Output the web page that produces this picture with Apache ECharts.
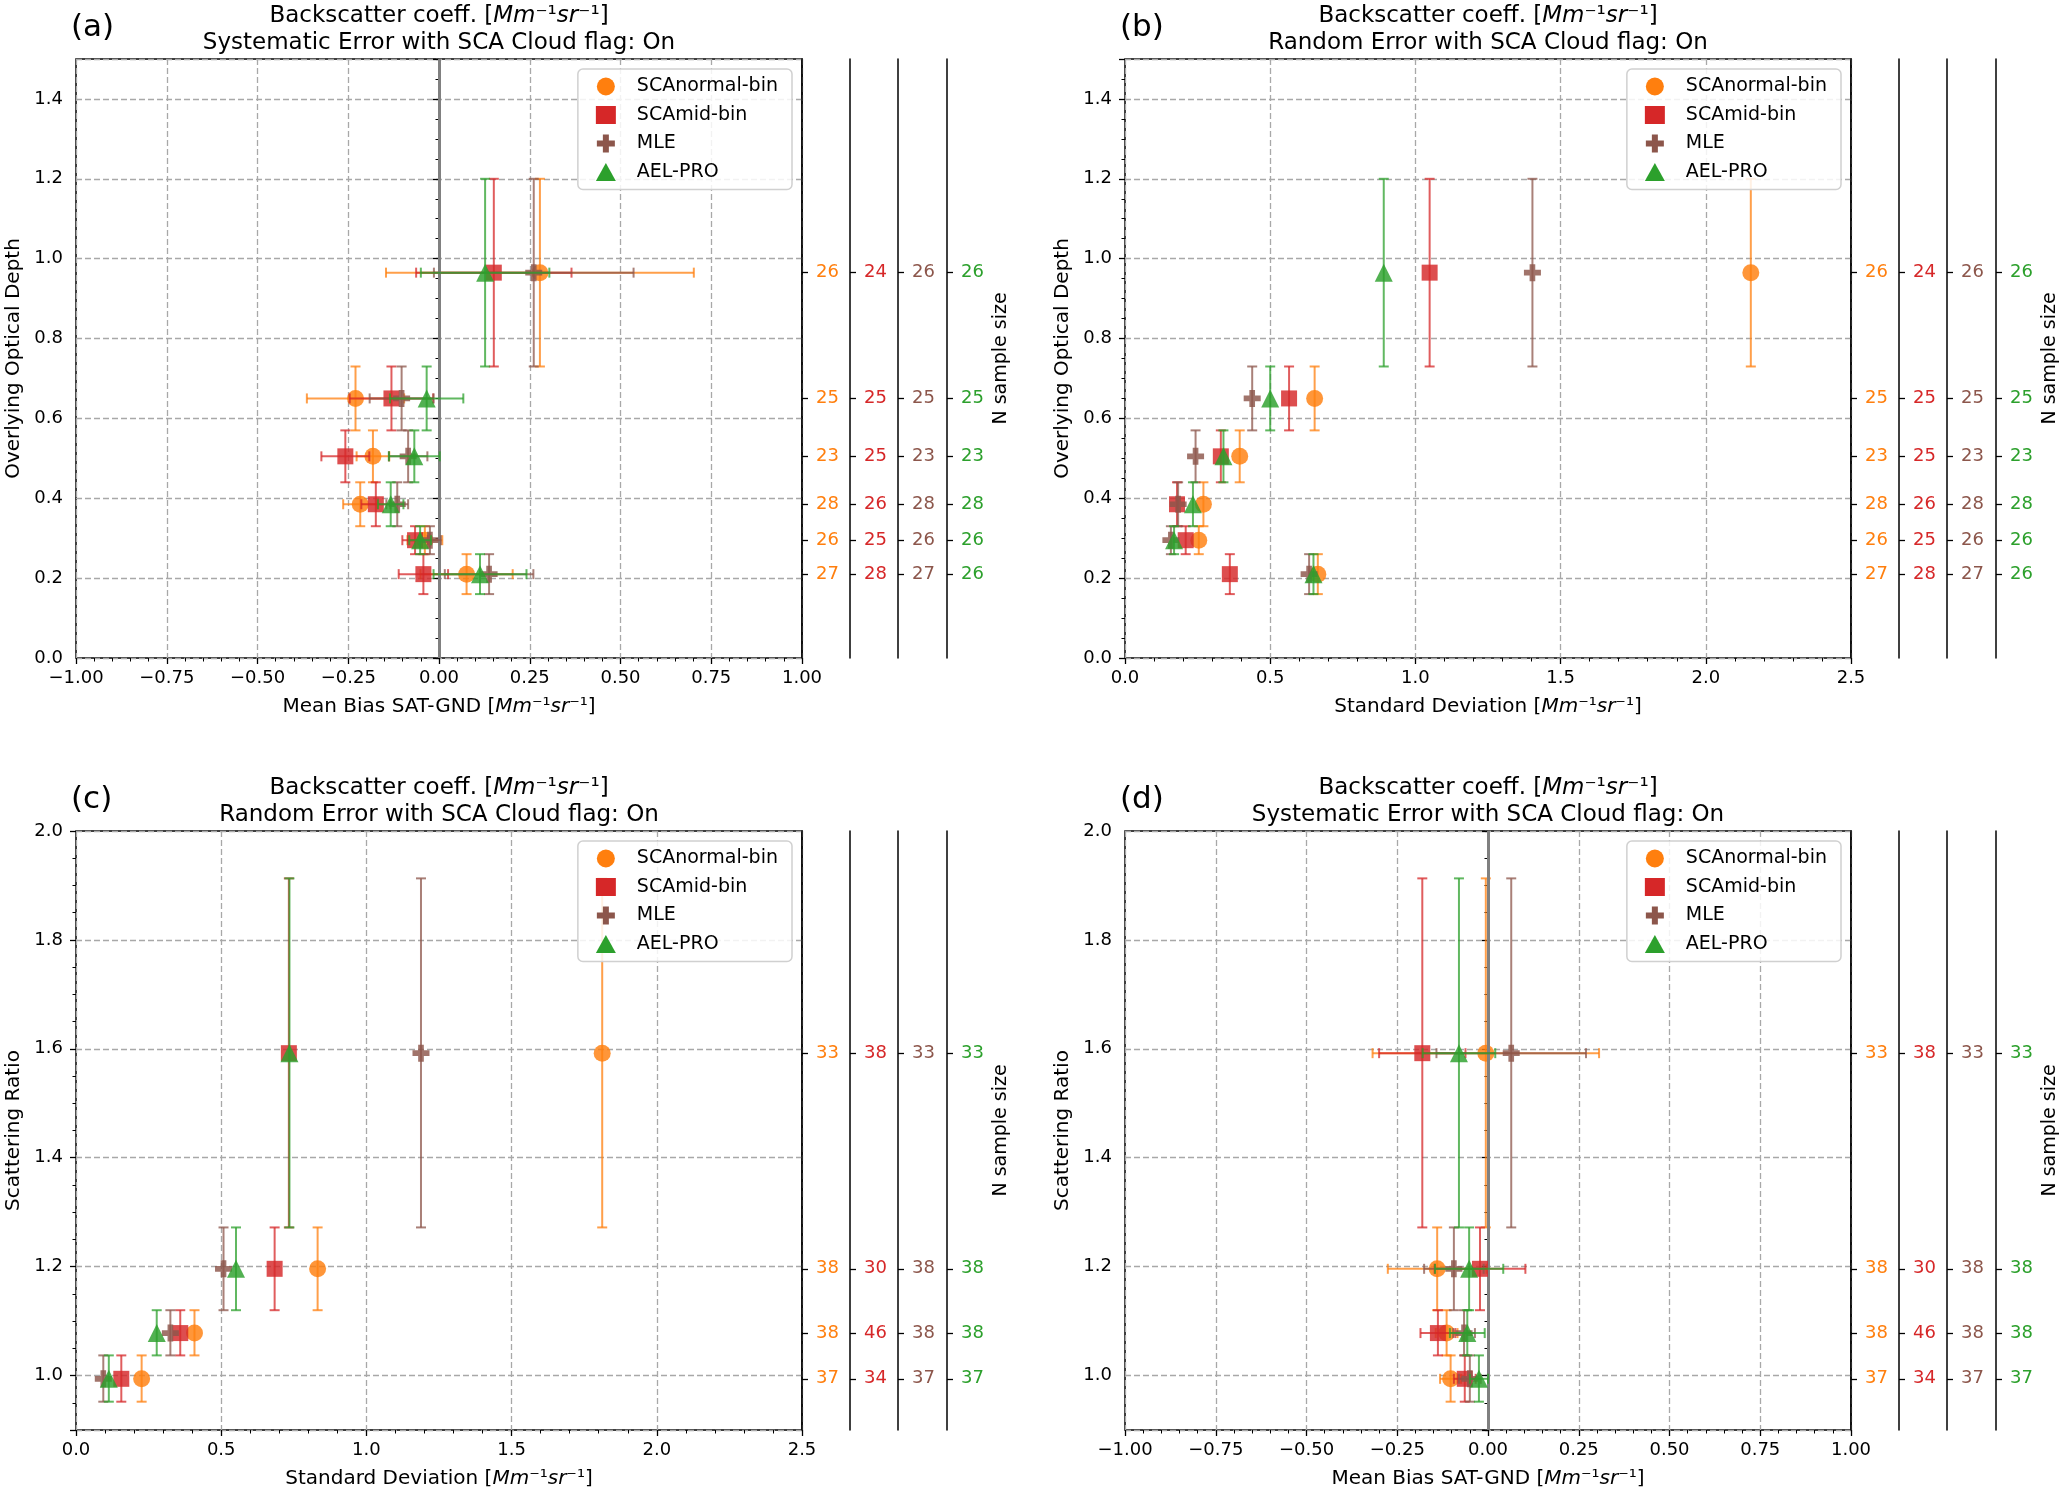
<!DOCTYPE html>
<html>
<head>
<meta charset="utf-8">
<script src="https://cdn.jsdelivr.net/npm/echarts@6/dist/echarts.min.js"></script>
<style>
  html, body { margin: 0; padding: 0; background: #fff; }
  #chart { width: 2067px; height: 1491px; }
</style>
</head>
<body>
<div id="chart"></div>
<script>
// bins of overlying optical depth (panels a, b), bottom to top
const odCenter = [0.21, 0.295, 0.385, 0.505, 0.65, 0.965];
const odLow = [0.16, 0.26, 0.33, 0.44, 0.57, 0.73];
const odHigh = [0.26, 0.33, 0.44, 0.57, 0.73, 1.2];
// bins of scattering ratio (panels c, d)
const srCenter = [0.994, 1.078, 1.196, 1.592];
const srLow = [0.952, 1.037, 1.12, 1.272];
const srHigh = [1.037, 1.12, 1.272, 1.913];

const methods = ['SCAnormal-bin', 'SCAmid-bin', 'MLE', 'AEL-PRO'];
const colors = ['#ff7f0e', '#d62728', '#8c564b', '#2ca02c'];

// (a) mean bias vs optical depth, with std error
const aNormal = [0.076, -0.039, -0.217, -0.182, -0.230, 0.278];
const aNormalErr = [0.127, 0.048, 0.047, 0.045, 0.134, 0.424];
const aMid = [-0.043, -0.066, -0.174, -0.258, -0.131, 0.151];
const aMidErr = [0.068, 0.035, 0.04, 0.066, 0.115, 0.214];
const aMle = [0.138, -0.025, -0.115, -0.085, -0.103, 0.261];
const aMleErr = [0.122, 0.03, 0.03, 0.053, 0.088, 0.275];
const aAel = [0.113, -0.052, -0.133, -0.068, -0.034, 0.127];
const aAelErr = [0.128, 0.03, 0.035, 0.07, 0.101, 0.177];

// (b) standard deviation vs optical depth
const bNormal = [0.664, 0.254, 0.27, 0.395, 0.653, 2.155];
const bMid = [0.361, 0.209, 0.179, 0.330, 0.565, 1.049];
const bMle = [0.634, 0.158, 0.183, 0.243, 0.438, 1.403];
const bAel = [0.649, 0.169, 0.234, 0.339, 0.500, 0.891];

// (c) standard deviation vs scattering ratio
const cNormal = [0.226, 0.408, 0.832, 1.812];
const cMid = [0.156, 0.359, 0.684, 0.733];
const cMle = [0.094, 0.325, 0.508, 1.188];
const cAel = [0.113, 0.278, 0.551, 0.735];

// (d) mean bias vs scattering ratio, with std error
const dNormal = [-0.103, -0.114, -0.14, -0.006];
const dNormalErr = [0.029, 0.03, 0.136, 0.312];
const dMid = [-0.064, -0.138, -0.022, -0.181];
const dMidErr = [0.03, 0.048, 0.125, 0.119];
const dMle = [-0.05, -0.066, -0.094, 0.064];
const dMleErr = [0.03, 0.03, 0.082, 0.206];
const dAel = [-0.025, -0.057, -0.052, -0.08];
const dAelErr = [0.025, 0.048, 0.094, 0.1];

// N sample size per bin
const nOdNormal = [27, 26, 28, 23, 25, 26];
const nOdMid = [28, 25, 26, 25, 25, 24];
const nOdMle = [27, 26, 28, 23, 25, 26];
const nOdAel = [26, 26, 28, 23, 25, 26];
const nSrNormal = [37, 38, 38, 33];
const nSrMid = [34, 46, 30, 38];
const nSrMle = [37, 38, 38, 33];
const nSrAel = [37, 38, 38, 33];

const FONT = 'DejaVu Sans';
const unitText = '{i|Mm}{n|⁻¹}{i|sr}{n|⁻¹}{n|]}';

const panels = [
  { letter: '(a)', left: 76, top: 59, kind: 'sys', bins: 'od',
    mean: [aNormal, aMid, aMle, aAel], err: [aNormalErr, aMidErr, aMleErr, aAelErr],
    n: [nOdNormal, nOdMid, nOdMle, nOdAel],
    sub: 'Systematic Error with SCA Cloud flag: On' },
  { letter: '(b)', left: 1125, top: 59, kind: 'rand', bins: 'od',
    mean: [bNormal, bMid, bMle, bAel], err: null,
    n: [nOdNormal, nOdMid, nOdMle, nOdAel],
    sub: 'Random Error with SCA Cloud flag: On' },
  { letter: '(c)', left: 76, top: 831, kind: 'rand', bins: 'sr',
    mean: [cNormal, cMid, cMle, cAel], err: null,
    n: [nSrNormal, nSrMid, nSrMle, nSrAel],
    sub: 'Random Error with SCA Cloud flag: On' },
  { letter: '(d)', left: 1125, top: 831, kind: 'sys', bins: 'sr',
    mean: [dNormal, dMid, dMle, dAel], err: [dNormalErr, dMidErr, dMleErr, dAelErr],
    n: [nSrNormal, nSrMid, nSrMle, nSrAel],
    sub: 'Systematic Error with SCA Cloud flag: On' }
];
const W = 726, H = 599;
const nOffsets = [0, 48, 96, 145];
const symbols = ['circle', 'rect', 'path://M1,0H2V1H3V2H2V3H1V2H0V1H1Z', 'triangle'];
const symbolSizes = [17, 16, 17, 18];

const richText = (size) => ({
  n: { fontSize: size, fontFamily: FONT, fontWeight: 'normal', color: '#000' },
  i: { fontSize: size, fontFamily: FONT, fontWeight: 'normal', fontStyle: 'italic', color: '#000' }
});

const fmtSigned = (d) => (v) => {
  if (Math.abs(v) < 1e-9) return (0).toFixed(d);
  return (v < 0 ? '−' : '') + Math.abs(v).toFixed(d);
};

function errorBars(color) {
  return function (params, api) {
    const x = api.value(0), y = api.value(1);
    const style = { stroke: color, lineWidth: 2, opacity: 0.75 };
    const cap = 5;
    const kids = [];
    const t = api.coord([x, api.value(5)]);
    const b = api.coord([x, api.value(4)]);
    kids.push({ type: 'line', shape: { x1: t[0], y1: t[1], x2: b[0], y2: b[1] }, style });
    kids.push({ type: 'line', shape: { x1: t[0] - cap, y1: t[1], x2: t[0] + cap, y2: t[1] }, style });
    kids.push({ type: 'line', shape: { x1: b[0] - cap, y1: b[1], x2: b[0] + cap, y2: b[1] }, style });
    if (api.value(3) > api.value(2)) {
      const l = api.coord([api.value(2), y]);
      const r = api.coord([api.value(3), y]);
      kids.push({ type: 'line', shape: { x1: l[0], y1: l[1], x2: r[0], y2: r[1] }, style });
      kids.push({ type: 'line', shape: { x1: l[0], y1: l[1] - cap, x2: l[0], y2: l[1] + cap }, style });
      kids.push({ type: 'line', shape: { x1: r[0], y1: r[1] - cap, x2: r[0], y2: r[1] + cap }, style });
    }
    return { type: 'group', children: kids };
  };
}

const grid = [], xAxis = [], yAxis = [], series = [], legend = [], title = [];

panels.forEach((p, pi) => {
  const centers = p.bins === 'od' ? odCenter : srCenter;
  const lows = p.bins === 'od' ? odLow : srLow;
  const highs = p.bins === 'od' ? odHigh : srHigh;

  grid.push({ left: p.left, top: p.top, width: W, height: H, show: true,
    borderColor: '#000', borderWidth: 1.5 });

  title.push({
    text: '{n|Backscatter coeff. [}' + unitText + '\n{n|' + p.sub + '}',
    left: p.left + W / 2, top: p.top - 56, textAlign: 'center', padding: 0,
    textStyle: { lineHeight: 27, fontWeight: 'normal', rich: richText(23) }
  });
  title.push({ text: p.letter, left: p.left - 5, top: p.top - 47, padding: 0,
    textStyle: { fontSize: 31, fontWeight: 'normal', fontFamily: FONT, color: '#000' } });

  const sys = p.kind === 'sys';
  xAxis.push({
    type: 'value', gridIndex: pi,
    min: sys ? -1 : 0, max: sys ? 1 : 2.5, interval: sys ? 0.25 : 0.5,
    name: (sys ? '{n|Mean Bias SAT-GND [}' : '{n|Standard Deviation [}') + unitText,
    nameLocation: 'middle', nameGap: 39,
    nameTextStyle: { rich: richText(20) },
    axisLine: { show: false },
    axisTick: { show: true, length: 6, lineStyle: { color: '#000', width: 1.3 } },
    minorTick: { show: true, splitNumber: 5, length: 3.5, lineStyle: { color: '#000', width: 1 } },
    axisLabel: { fontSize: 18, fontFamily: FONT, color: '#000', margin: 11,
      formatter: sys ? fmtSigned(2) : fmtSigned(1) },
    splitLine: { show: true, lineStyle: { color: '#a8a8a8', width: 1.3, type: [6, 3] } }
  });

  const yBase = {
    type: 'value', gridIndex: pi,
    min: p.bins === 'od' ? 0 : 0.9, max: p.bins === 'od' ? 1.5 : 2.0
  };
  yAxis.push(Object.assign({}, yBase, p.bins === 'od' ? { interval: 0.2 } : { splitNumber: 5 }, {
    name: p.bins === 'od' ? 'Overlying Optical Depth' : 'Scattering Ratio',
    nameLocation: 'middle', nameGap: 52,
    nameTextStyle: { fontSize: 20, fontFamily: FONT, color: '#000' },
    axisLine: { show: false },
    axisTick: { show: true, length: 6, lineStyle: { color: '#000', width: 1.3 } },
    minorTick: { show: true, splitNumber: 4, length: 3.5, lineStyle: { color: '#000', width: 1 } },
    axisLabel: { fontSize: 18, fontFamily: FONT, color: '#000', margin: 13,
      showMaxLabel: p.bins !== 'od', showMinLabel: p.bins === 'od',
      formatter: (v) => v.toFixed(1) },
    splitLine: { show: true, lineStyle: { color: '#a8a8a8', width: 1.3, type: [6, 3] } }
  }));

  // N sample size axes, one per method
  nOffsets.forEach((off, mi) => {
    const counts = p.n[mi];
    yAxis.push(Object.assign({}, yBase, {
      position: 'right', offset: off,
      name: mi === 3 ? 'N sample size' : '',
      nameLocation: 'middle', nameGap: 45, nameRotate: 90,
      nameTextStyle: { fontSize: 19, fontFamily: FONT, color: '#000' },
      axisLine: { show: true, lineStyle: { color: '#000', width: 1.5 } },
      axisTick: { show: true, length: 6, customValues: centers,
        lineStyle: { color: '#000', width: 1.3 } },
      axisLabel: { show: true, customValues: centers, fontSize: 18, fontFamily: FONT,
        color: colors[mi], margin: 14,
        formatter: (v) => {
          let k = 0;
          centers.forEach((c, i) => { if (Math.abs(c - v) < Math.abs(centers[k] - v)) k = i; });
          return String(counts[k]);
        } },
      splitLine: { show: false }
    }));
  });

  const yIdx = pi * 5;

  if (sys) {
    series.push({ type: 'line', name: 'zero', xAxisIndex: pi, yAxisIndex: yIdx, data: [],
      silent: true, z: 1,
      markLine: { silent: true, symbol: ['none', 'none'], label: { show: false },
        lineStyle: { color: '#808080', width: 3, type: 'solid' }, data: [{ xAxis: 0 }] } });
  }

  methods.forEach((m, mi) => {
    const mean = p.mean[mi];
    const err = p.err ? p.err[mi] : null;
    series.push({
      type: 'scatter', name: m, xAxisIndex: pi, yAxisIndex: yIdx,
      symbol: symbols[mi], symbolSize: symbolSizes[mi], z: 3 + 2 * mi,
      itemStyle: { color: colors[mi], opacity: 0.82 },
      emphasis: { disabled: true },
      data: mean.map((v, i) => [v, centers[i]])
    });
    series.push({
      type: 'custom', name: m + ' error', xAxisIndex: pi, yAxisIndex: yIdx, z: 2 + 2 * mi,
      silent: true, clip: false,
      renderItem: errorBars(colors[mi]),
      data: mean.map((v, i) => [v, centers[i],
        err ? v - err[i] : v, err ? v + err[i] : v, lows[i], highs[i]])
    });
  });

  legend.push({
    data: methods, orient: 'vertical', selectedMode: false,
    right: 2067 - (p.left + W - 10), top: p.top + 10,
    itemWidth: 20, itemHeight: 18, itemGap: 9.5,
    padding: [8, 14, 8, 18],
    backgroundColor: 'rgba(255,255,255,0.85)', borderColor: '#d0d0d0', borderWidth: 1.5,
    borderRadius: 5,
    itemStyle: { opacity: 1 },
    textStyle: { fontSize: 19, fontFamily: FONT, color: '#000', padding: [0, 0, 0, 16] }
  });
});

const chart = echarts.init(document.getElementById('chart'));
chart.setOption({
  animation: false,
  backgroundColor: '#fff',
  title, grid, xAxis, yAxis, legend, series
});
</script>
</body>
</html>
